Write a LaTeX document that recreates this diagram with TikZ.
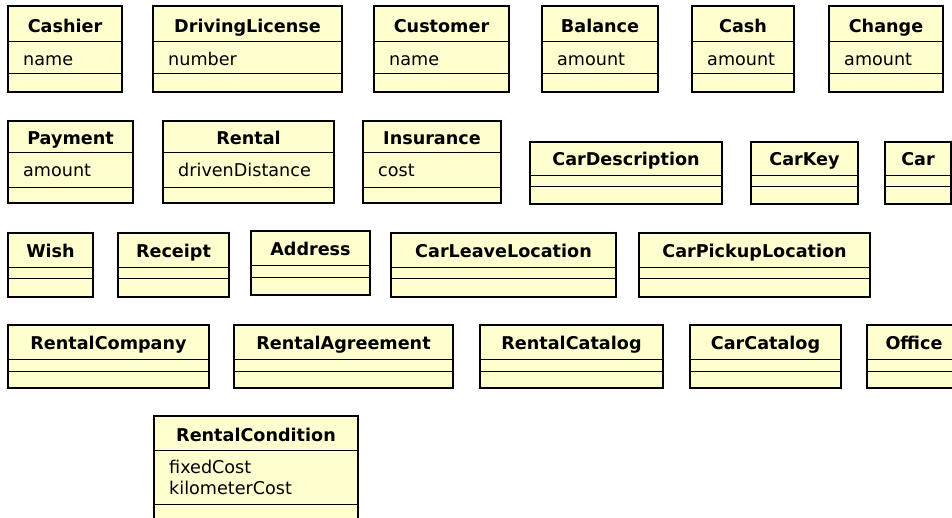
\documentclass[tikz,border=0pt]{standalone}
\usepackage{fontspec}
\setmainfont{DejaVu Sans}
\definecolor{umlfill}{HTML}{FEFECE}

\begin{document}
\begin{tikzpicture}[x=1pt,y=-1pt,
  font=\fontsize{17.6}{21}\selectfont,
  classbox/.style={draw=black,line width=2pt,fill=umlfill},
  compline/.style={draw=black,line width=1pt},
  classtitle/.style={anchor=base,inner sep=0pt,font=\fontsize{17.6}{21}\selectfont\bfseries},
  classattr/.style={anchor=base west,inner sep=0pt,align=left}]
\useasboundingbox (0,0) rectangle (952,518);
\clip (0,0) rectangle (952,518);

% first row: classes with one attribute
\foreach \id/\xa/\xb/\ttl/\att in {cashier/8/122/Cashier/name,
    drivinglicense/153/342/DrivingLicense/number,
    customer/374/509/Customer/name, balance/542/658/Balance/amount,
    cash/692/794/Cash/amount, change/829/943/Change/amount}{
  \draw[classbox] (\xa,6) rectangle (\xb,92);
  \draw[compline] (\xa,42) -- (\xb,42) (\xa,74) -- (\xb,74);
  \node[classtitle] (\id) at ({(\xa+\xb)/2},33) {\ttl};
  \node[classattr] (\id-attr) at (\xa+15,66) {\att};
}

% second row
\foreach \id/\xa/\xb/\ttl/\att in {payment/8/133/Payment/amount,
    rental/163/334/Rental/drivenDistance, insurance/363/501/Insurance/cost}{
  \draw[classbox] (\xa,121) rectangle (\xb,203);
  \draw[compline] (\xa,153) -- (\xb,153) (\xa,188) -- (\xb,188);
  \node[classtitle] (\id) at ({(\xa+\xb)/2},145) {\ttl};
  \node[classattr] (\id-attr) at (\xa+15,177) {\att};
}
\foreach \id/\xa/\xb/\ttl in {cardescription/530/722/CarDescription,
    carkey/751/858/CarKey, car/885/951/Car}{
  \draw[classbox] (\xa,142) rectangle (\xb,204);
  \draw[compline] (\xa,176) -- (\xb,176) (\xa,187) -- (\xb,187);
  \node[classtitle] (\id) at ({(\xa+\xb)/2},166) {\ttl};
}

% third row
\foreach \id/\xa/\xb/\ttl in {wish/8/93/Wish, receipt/118/229/Receipt,
    carleavelocation/391/616/CarLeaveLocation,
    carpickuplocation/639/870/CarPickupLocation}{
  \draw[classbox] (\xa,233) rectangle (\xb,297);
  \draw[compline] (\xa,268) -- (\xb,268) (\xa,279) -- (\xb,279);
  \node[classtitle] (\id) at ({(\xa+\xb)/2},258) {\ttl};
}
\draw[classbox] (251,231) rectangle (370,295);
\draw[compline] (251,266) -- (370,266) (251,278) -- (370,278);
\node[classtitle] (address) at (310.5,256) {Address};

% fourth row
\foreach \id/\xa/\xb/\ttl in {rentalcompany/8/209/RentalCompany,
    rentalagreement/234/453/RentalAgreement,
    rentalcatalog/480/663/RentalCatalog, carcatalog/690/841/CarCatalog,
    office/867/961/Office}{
  \draw[classbox] (\xa,325) rectangle (\xb,388);
  \draw[compline] (\xa,359) -- (\xb,359) (\xa,371) -- (\xb,371);
  \node[classtitle] (\id) at ({(\xa+\xb)/2},349) {\ttl};
}

% last row
\draw[classbox] (154,416) rectangle (358,535);
\draw[compline] (154,450) -- (358,450) (154,504) -- (358,504);
\node[classtitle] (rentalcondition) at (256,441) {RentalCondition};
\node[classattr] (rentalcondition-attr) at (169,494) {fixedCost\\kilometerCost};
\end{tikzpicture}
\end{document}
